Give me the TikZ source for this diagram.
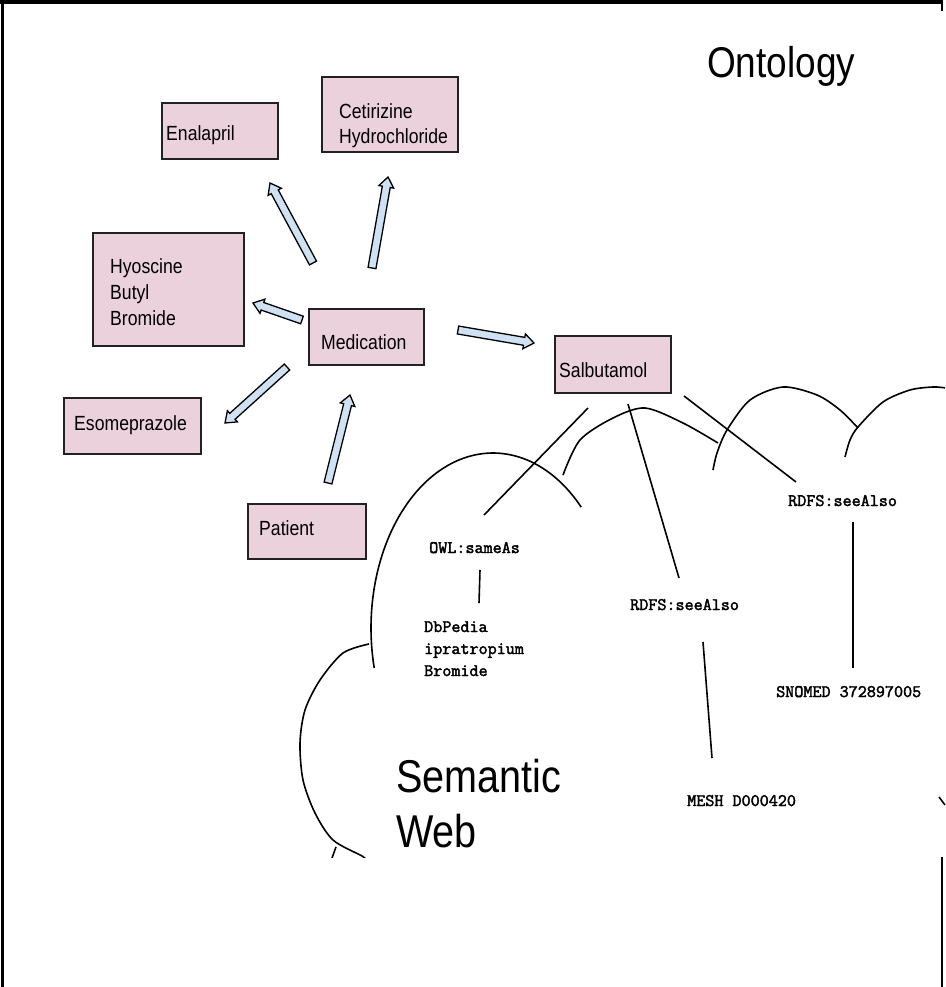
\documentclass[tikz,border=0pt]{standalone}
\usepackage{fontspec}
\newfontfamily\armain{Liberation Sans}[FakeStretch=0.86]
\newfontfamily\monob{Latin Modern Mono}[FakeBold=2.2]
\usetikzlibrary{calc}
\definecolor{boxpink}{HTML}{EAD1DC}
\definecolor{arrblue}{HTML}{CFE2F3}
\definecolor{boxline}{HTML}{222222}
\tikzset{
  box/.style={draw=boxline, line width=1.8pt, fill=boxpink, inner sep=0pt, rectangle},
  boxtext/.style={anchor=base west, inner sep=0pt, font=\armain\fontsize{20.5}{25}\selectfont},
  bigtext/.style={anchor=base west, inner sep=0pt, font=\armain\fontsize{46}{55}\selectfont},
  ontotext/.style={anchor=base west, inner sep=0pt, font=\armain\fontsize{43}{50}\selectfont},
  monotext/.style={anchor=base west, inner sep=0pt, font=\monob\fontsize{17.6}{22}\selectfont},
  blockarrow/.style={draw=black, line width=1.3pt, fill=arrblue, line join=miter},
  link/.style={draw=black, line width=1.6pt},
  cloudline/.style={draw=black, line width=1.6pt},
  frameline/.style={draw=black, line width=3pt}
}
\newcommand\blockarr[2]{%
  \coordinate (bm) at ($(#2)!10pt!(#1)$);
  \path[blockarrow] ($(#1)!4pt!90:(#2)$) -- ($(bm)!4pt!90:(#2)$) -- ($(bm)!7.5pt!90:(#2)$)
     -- (#2) -- ($(bm)!7.5pt!-90:(#2)$) -- ($(bm)!4pt!-90:(#2)$) -- ($(#1)!4pt!-90:(#2)$) -- cycle;
}
\begin{document}
\begin{tikzpicture}[x=1pt, y=-1pt]
\useasboundingbox (0,0) rectangle (945,987);
\fill[white] (0,0) rectangle (945,987);

% frame
\draw[frameline] (2,0) -- (2,987);
\draw[frameline, line width=4pt] (0,2) -- (943,2);
\draw[frameline, line width=2.5pt] (942,0) -- (942,11);
\draw[frameline, line width=2.5pt] (942,857) -- (942,987);

% title
\node[ontotext] (onto) at (707,78) {Ontology};

% boxes
\node[box, minimum width=116, minimum height=56] (enal) at (220,131) {};
\node[box, minimum width=136, minimum height=75] (ceti) at (390,114.5) {};
\node[box, minimum width=151, minimum height=113] (hyos) at (168.5,289.5) {};
\node[box, minimum width=115, minimum height=56] (medi) at (366.5,337) {};
\node[box, minimum width=116, minimum height=57] (salb) at (613,364.5) {};
\node[box, minimum width=137, minimum height=56] (esom) at (132.5,426) {};
\node[box, minimum width=118, minimum height=55] (pati) at (307,531.5) {};

\node[boxtext] (tenal) at (166,141) {Enalapril};
\node[boxtext] (tceti1) at (339,119) {Cetirizine};
\node[boxtext] (tceti2) at (339,144) {Hydrochloride};
\node[boxtext] (thyos1) at (110,273) {Hyoscine};
\node[boxtext] (thyos2) at (110,299) {Butyl};
\node[boxtext] (thyos3) at (110,325) {Bromide};
\node[boxtext] (tmedi) at (321,349) {Medication};
\node[boxtext] (tsalb) at (559,377) {Salbutamol};
\node[boxtext] (tesom) at (74,430) {Esomeprazole};
\node[boxtext] (tpati) at (259,535) {Patient};

% block arrows
\coordinate (a1t) at (313,263); \coordinate (a1h) at (270,183);
\coordinate (a2t) at (372,268); \coordinate (a2h) at (388,177);
\coordinate (a3t) at (302,320); \coordinate (a3h) at (253,303);
\coordinate (a4t) at (287,367); \coordinate (a4h) at (225,423);
\coordinate (a5t) at (328,483); \coordinate (a5h) at (350,395);
\coordinate (a6t) at (458,330); \coordinate (a6h) at (534,343);
\blockarr{a1t}{a1h}
\blockarr{a2t}{a2h}
\blockarr{a3t}{a3h}
\blockarr{a4t}{a4h}
\blockarr{a5t}{a5h}
\blockarr{a6t}{a6h}

% cloud
\begin{scope}
\clip (0,0) rectangle (945,857);
\draw[cloudline] plot[smooth, domain=-193.2:-43.7, samples=80, variable=\t] ({493+122*cos(\t)}, {628+175*sin(\t)});
\draw[cloudline] plot[smooth] coordinates {(563,475) (580,440) (613,418) (645,408) (683,423) (718,443)};
\draw[cloudline] plot[smooth] coordinates {(713,470) (717,453) (727,430) (750,400) (783,387) (817,395) (840,410) (858,428)};
\draw[cloudline] plot[smooth] coordinates {(845,457) (850,440) (858,427) (883,402) (910,390) (933,387) (946,388)};
\draw[cloudline] plot[smooth] coordinates {(369,644) (343,653) (320,680) (305,710) (300,743) (303,780) (315,813) (333,840) (362,856) (366,860)};
\draw[cloudline] (332,858) -- (336,847);
\end{scope}
\draw[cloudline] (939,797) -- (945,805);

% semantic web text
\node[bigtext] (sw1) at (396,792) {Semantic};
\node[bigtext] (sw2) at (396,847) {Web};

% mono labels
\node[monotext] (owl) at (429,553) {OWL:sameAs};
\node[monotext] (db1) at (424,632) {DbPedia};
\node[monotext] (db2) at (424,654) {ipratropium};
\node[monotext] (db3) at (424,676) {Bromide};
\node[monotext] (rdfa) at (630,610) {RDFS:seeAlso};
\node[monotext] (rdfb) at (788,506) {RDFS:seeAlso};
\node[monotext] (snomed) at (776,697) {SNOMED 372897005};
\node[monotext] (mesh) at (687,806) {MESH D000420};

% links
\coordinate (s1) at (588,408); \coordinate (o1) at (484,515);
\coordinate (s2) at (628,404); \coordinate (r1) at (679,578);
\coordinate (s3) at (684,396); \coordinate (r2) at (796,482);
\coordinate (o2) at (480,570); \coordinate (d1) at (479,603);
\coordinate (r3) at (703,642); \coordinate (m1) at (712,758);
\coordinate (r4) at (853,522); \coordinate (n1) at (853,668);
\draw[link] (s1) -- (o1);
\draw[link] (s2) -- (r1);
\draw[link] (s3) -- (r2);
\draw[link] (o2) -- (d1);
\draw[link] (r3) -- (m1);
\draw[link] (r4) -- (n1);
\end{tikzpicture}
\end{document}
